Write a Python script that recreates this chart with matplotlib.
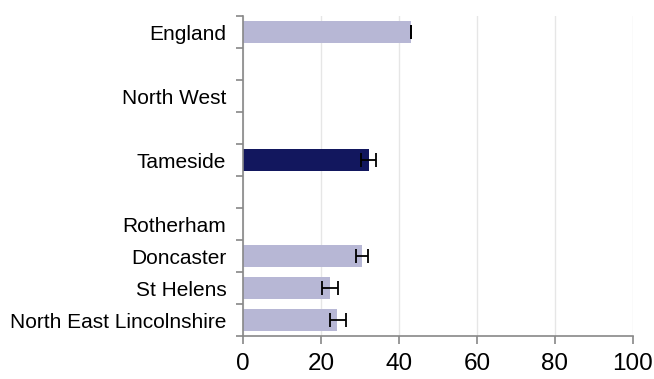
import numpy as np
import matplotlib
matplotlib.use("Agg")
import matplotlib.pyplot as plt

plt.rcParams['font.family'] = ['Liberation Sans', 'DejaVu Sans']

# slots from top to bottom, blank names are spacer rows
areas = ["England", "", "North West", "", "Tameside", "",
         "Rotherham", "Doncaster", "St Helens", "North East Lincolnshire"]
values = [43.1, np.nan, np.nan, np.nan, 32.3, np.nan,
          np.nan, 30.4, 22.3, 24.2]
lower = [43.0, np.nan, np.nan, np.nan, 30.3, np.nan,
         np.nan, 28.9, 20.3, 22.2]
upper = [43.2, np.nan, np.nan, np.nan, 34.1, np.nan,
         np.nan, 32.0, 24.4, 26.3]
highlight = "Tameside"

light = "#b7b7d5"
dark = "#12175e"

fig = plt.figure(figsize=(6.54, 3.79), dpi=100)
ax = fig.add_axes([243 / 654, 1 - 336 / 379, 390 / 654, 320 / 379])

n = len(areas)
ypos = np.arange(n)[::-1]
colors = [dark if a == highlight else light for a in areas]
vals = np.array(values, dtype=float)
lo = np.array(lower, dtype=float)
hi = np.array(upper, dtype=float)

mask = ~np.isnan(vals)
ax.barh(ypos[mask], vals[mask], height=0.67, color=np.array(colors)[mask],
        zorder=2)
ax.errorbar(vals[mask], ypos[mask],
            xerr=[vals[mask] - lo[mask], hi[mask] - vals[mask]],
            fmt="none", ecolor="black", elinewidth=1.3, capsize=5,
            capthick=1.3, zorder=3)

ax.set_xlim(0, 100)
ax.set_ylim(-0.5, n - 0.5)
ax.set_xticks(range(0, 101, 20))
ax.tick_params(axis="x", labelsize=17.5, length=6, width=1.2,
               color="#888888", direction="out", pad=6)

# labels sit on bar centres, tick marks sit on the slot edges
ax.set_yticks(ypos)
ax.set_yticklabels([a for a in areas])
ax.tick_params(axis="y", which="major", length=0, labelsize=15, pad=12)
ax.set_yticks(np.arange(-0.5, n, 1.0), minor=True)
ax.tick_params(axis="y", which="minor", length=5, width=1.2,
               color="#888888", direction="out")

ax.grid(axis="x", color="#e6e6e6", linewidth=1, zorder=0)
ax.set_axisbelow(True)
for side in ["top", "right"]:
    ax.spines[side].set_visible(False)
for side in ["left", "bottom"]:
    ax.spines[side].set_color("#888888")
    ax.spines[side].set_linewidth(1.2)

fig.savefig("out.png", dpi=100)
